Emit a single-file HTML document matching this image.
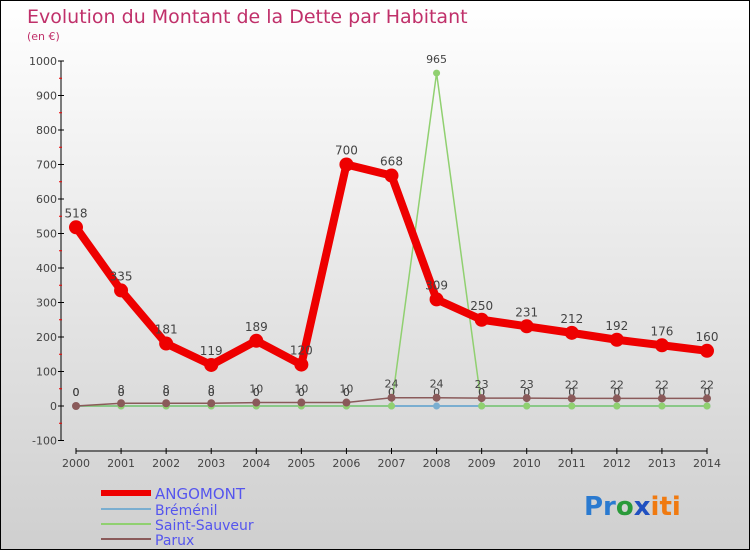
<!DOCTYPE html>
<html><head><meta charset="utf-8"><style>
body{margin:0}
#c{width:750px;height:550px;position:relative;overflow:hidden;background:linear-gradient(#ffffff,#cfcfcf);font-family:"DejaVu Sans","Liberation Sans",sans-serif;box-sizing:border-box;border:1px solid #000}
</style></head><body>
<div id="c">
<svg id="s" width="750" height="550" style="position:absolute;left:0;top:0">
<text x="26" y="22" font-size="19" fill="#c0306a">Evolution du Montant de la Dette par Habitant</text>
<text x="26" y="39" font-size="11" fill="#c0306a">(en €)</text>
<g id="ax"></g><g id="ser"></g>
<g>
<line x1="100" y1="492" x2="150" y2="492" stroke="#e00" stroke-width="6"/>
<text x="154" y="498" font-size="15" fill="#5555ee">ANGOMONT</text>
<line x1="100" y1="508" x2="150" y2="508" stroke="#7aaed0" stroke-width="2"/>
<text x="154" y="514" font-size="14" fill="#5555ee">Bréménil</text>
<line x1="100" y1="523" x2="150" y2="523" stroke="#90d070" stroke-width="2"/>
<text x="154" y="529" font-size="14" fill="#5555ee">Saint-Sauveur</text>
<line x1="100" y1="538" x2="150" y2="538" stroke="#8a5a5a" stroke-width="2"/>
<text x="154" y="544" font-size="14" fill="#5555ee">Parux</text>
</g>
<text x="583" y="514" font-size="26" font-weight="bold"><tspan fill="#2a7ad0">Pr</tspan><tspan fill="#2a9a3a">o</tspan><tspan fill="#2050c0">x</tspan><tspan fill="#f07a10">iti</tspan></text>
</svg>
</div>
<script>
const years=[2000,2001,2002,2003,2004,2005,2006,2007,2008,2009,2010,2011,2012,2013,2014];
const angomont=[518,335,181,119,189,120,700,668,309,250,231,212,192,176,160];
const bremenil=[0,0,0,0,0,0,0,0,0,0,0,0,0,0,0];
const saintSauveur=[0,0,0,0,0,0,0,0,965,0,0,0,0,0,0];
const parux=[0,8,8,8,10,10,10,24,24,23,23,22,22,22,22];
const yTicks=[-100,0,100,200,300,400,500,600,700,800,900,1000];
const NS="http://www.w3.org/2000/svg";
function X(i){return 75+i*(706-75)/14;}
function Y(v){return 405-v*0.345;}
function el(t,a,p){const e=document.createElementNS(NS,t);for(const k in a)e.setAttribute(k,a[k]);p.appendChild(e);return e;}
const ax=document.getElementById('ax'),ser=document.getElementById('ser');
const yl=el('line',{x1:60,y1:Y(1000),x2:60,y2:Y(-100),stroke:'#000'},ax);


yTicks.forEach(v=>{
 el('line',{x1:57,y1:Y(v),x2:63,y2:Y(v),stroke:'#000'},ax);
 if(v<1000) el('line',{x1:58,y1:Y(v+50),x2:61,y2:Y(v+50),stroke:'#e00'},ax);
 const t=el('text',{x:56,y:Y(v)+4,'font-size':11,fill:'#444','text-anchor':'end'},ax);t.textContent=v;
 
 
});
const xl=el('line',{x1:75,y1:450,x2:706,y2:450,stroke:'#000'},ax);


years.forEach((y,i)=>{
 el('line',{x1:X(i),y1:447,x2:X(i),y2:453,stroke:'#000'},ax);
 const t=el('text',{x:X(i),y:466,'font-size':11,fill:'#444','text-anchor':'middle'},ax);t.textContent=y;
 
 
});
function series(data,color,w,r,name,labels){
 const g=el('g',{},ser);
 
 
 el('polyline',{points:data.map((v,i)=>X(i)+','+Y(v)).join(' '),fill:'none',stroke:color,'stroke-width':w,'stroke-linejoin':'round'},g);
 data.forEach((v,i)=>{
  const c=el('circle',{cx:X(i),cy:Y(v),r:r,fill:color},g);
  
  
  if(labels){const t=el('text',{x:X(i),y:Y(v)-10,'font-size':labels,fill:'#444','text-anchor':'middle'},g);t.textContent=v;
  
  }
 });
}
series(bremenil,'#7aaed0',2,3.5,'series-bremenil',11);
series(saintSauveur,'#90d070',1.5,3.5,'series-saint-sauveur',11);
series(parux,'#8a5a5a',1.5,4,'series-parux',11);
series(angomont,'#ee0000',8,7,'series-angomont',12);
</script>
</body></html>
